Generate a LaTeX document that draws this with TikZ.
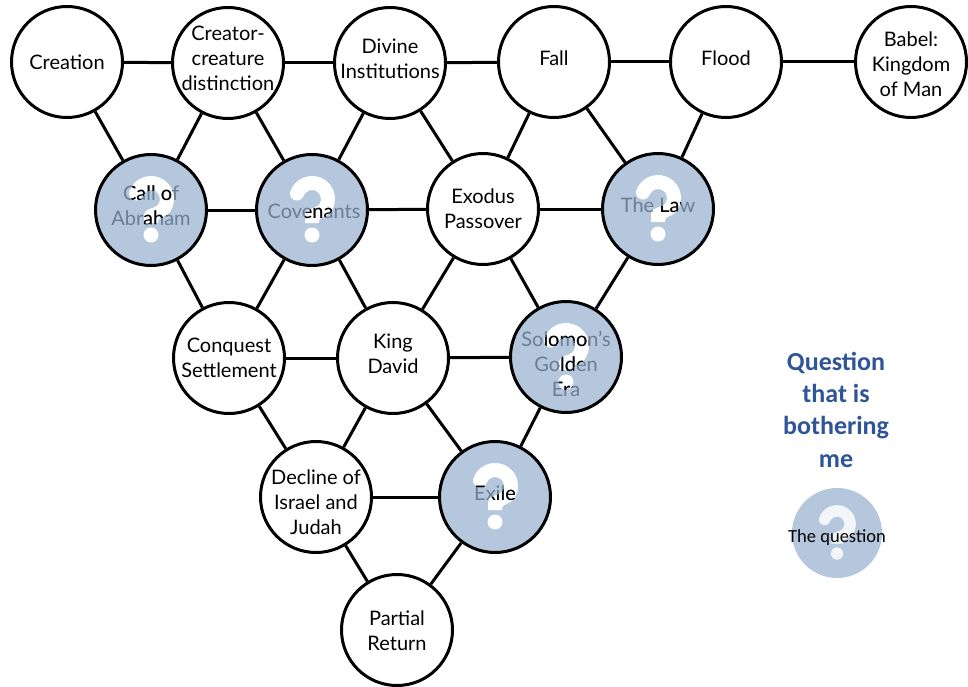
\documentclass[tikz,border=0pt]{standalone}
\usepackage{fontspec}
\setmainfont{Lato}
\newfontfamily\calibri{Carlito}
\definecolor{qfill}{RGB}{180,199,221}
\definecolor{qtext}{RGB}{108,126,148}
\definecolor{qtitle}{RGB}{47,85,151}
% Outline of a bold question mark, centred on the origin (hook + stem + dot)
\newcommand\qmarkpath{%
  (-21.61,18.87) arc[start angle=160,end angle=-35,radius=23]
  .. controls (15.4,-7.1) and (7,-7) .. (7,-11) -- (7,-13) -- (-7,-13) -- (-7,-5)
  .. controls (-7,-1) and (-1.5,1.3) .. (2.33,2.31)
  arc[start angle=-75,end angle=160,radius=9]
  arc[start angle=-20,end angle=-200,radius=7] -- cycle
  (0,-25) circle[radius=7.5]}
% Shaded stage: name, x, y, text, text x, text y
\newcommand\qstagenode[6]{%
  \node[qstage] (#1) at (#2,#3) {};
  \fill[white,shift={(#2,#3)}] \qmarkpath;
  \node[lbl,text=qtext] (#1-t) at (#5,#6) {#4};
  \begin{scope}
    \clip[shift={(#2,#3)}] \qmarkpath;
    \node[lbl,text=black] (#1-k) at (#5,#6) {#4};
  \end{scope}}
\begin{document}
\begin{tikzpicture}[x=1pt,y=1pt,
  stage/.style={circle,draw=black,line width=3pt,fill=white,minimum size=111pt,inner sep=0pt},
  qstage/.style={stage,fill=qfill},
  lbl/.style={align=center,inner sep=0pt,font=\fontsize{20}{25}\selectfont},
  link/.style={line width=3pt}]
\useasboundingbox (0,0) rectangle (968,-687);

% top row
\node[stage] (creation) at (67,-62) {};
\node[lbl] (creation-t) at (67,-62) {Creation};
\node[stage] (creator) at (228,-63) {};
\node[lbl] (creator-t) at (228,-58) {Creator-\\creature\\distinction};
\node[stage] (divine) at (390,-63) {};
\node[lbl] (divine-t) at (390,-59) {Divine\\Institutions};
\node[stage] (fall) at (554,-62) {};
\node[lbl] (fall-t) at (554,-58) {Fall};
\node[stage] (flood) at (726,-62) {};
\node[lbl] (flood-t) at (726,-58) {Flood};
\node[stage] (babel) at (911,-62) {};
\node[lbl] (babel-t) at (911,-64) {Babel:\\Kingdom\\of Man};

% second row
\qstagenode{abraham}{151}{-210}{Call of\\Abraham}{151}{-206}
\qstagenode{covenants}{312}{-210}{Covenants}{314}{-211}
\node[stage] (exodus) at (483,-209) {};
\node[lbl] (exodus-t) at (483,-209) {Exodus\\Passover};
\qstagenode{law}{658}{-209}{The Law}{658}{-205}

% third row
\node[stage] (conquest) at (229,-358) {};
\node[lbl] (conquest-t) at (229,-358) {Conquest\\Settlement};
\node[stage] (david) at (393,-358) {};
\node[lbl] (david-t) at (393,-354) {King\\David};
\qstagenode{solomon}{566}{-357}{Solomon’s\\Golden\\Era}{566}{-364}

% fourth row
\node[stage] (decline) at (316,-497) {};
\node[lbl] (decline-t) at (316,-502) {Decline of\\Israel and\\Judah};
\qstagenode{exile}{495}{-497}{Exile}{495}{-493}

% bottom
\node[stage] (partial) at (397,-630) {};
\node[lbl] (partial-t) at (397,-631) {Partial\\Return};

% connectors
\foreach \a/\b in {creation/creator, creator/divine, divine/fall, fall/flood, flood/babel,
  creation/abraham, creator/abraham, creator/covenants, divine/covenants, divine/exodus,
  fall/exodus, fall/law, flood/law,
  abraham/covenants, covenants/exodus, exodus/law,
  abraham/conquest, covenants/conquest, covenants/david, exodus/david, exodus/solomon, law/solomon,
  conquest/david, david/solomon,
  conquest/decline, david/decline, david/exile, solomon/exile,
  decline/exile, decline/partial, exile/partial}
  \draw[link] (\a) -- (\b);

% legend
\node[align=center,inner sep=0pt,text=qtitle,font=\calibri\bfseries\fontsize{26}{32.3}\selectfont]
  (legend-title) at (836,-409.5) {Question\\that is\\bothering\\me};
\node[circle,fill=qfill,minimum size=90pt,inner sep=0pt] (legend-q) at (837,-533) {};
\fill[white,opacity=0.85,shift={(837,-533)},scale=0.82] \qmarkpath;
\node[inner sep=0pt,font=\calibri\fontsize{18.5}{22}\selectfont] (legend-t) at (837,-538) {The question};
\end{tikzpicture}
\end{document}
